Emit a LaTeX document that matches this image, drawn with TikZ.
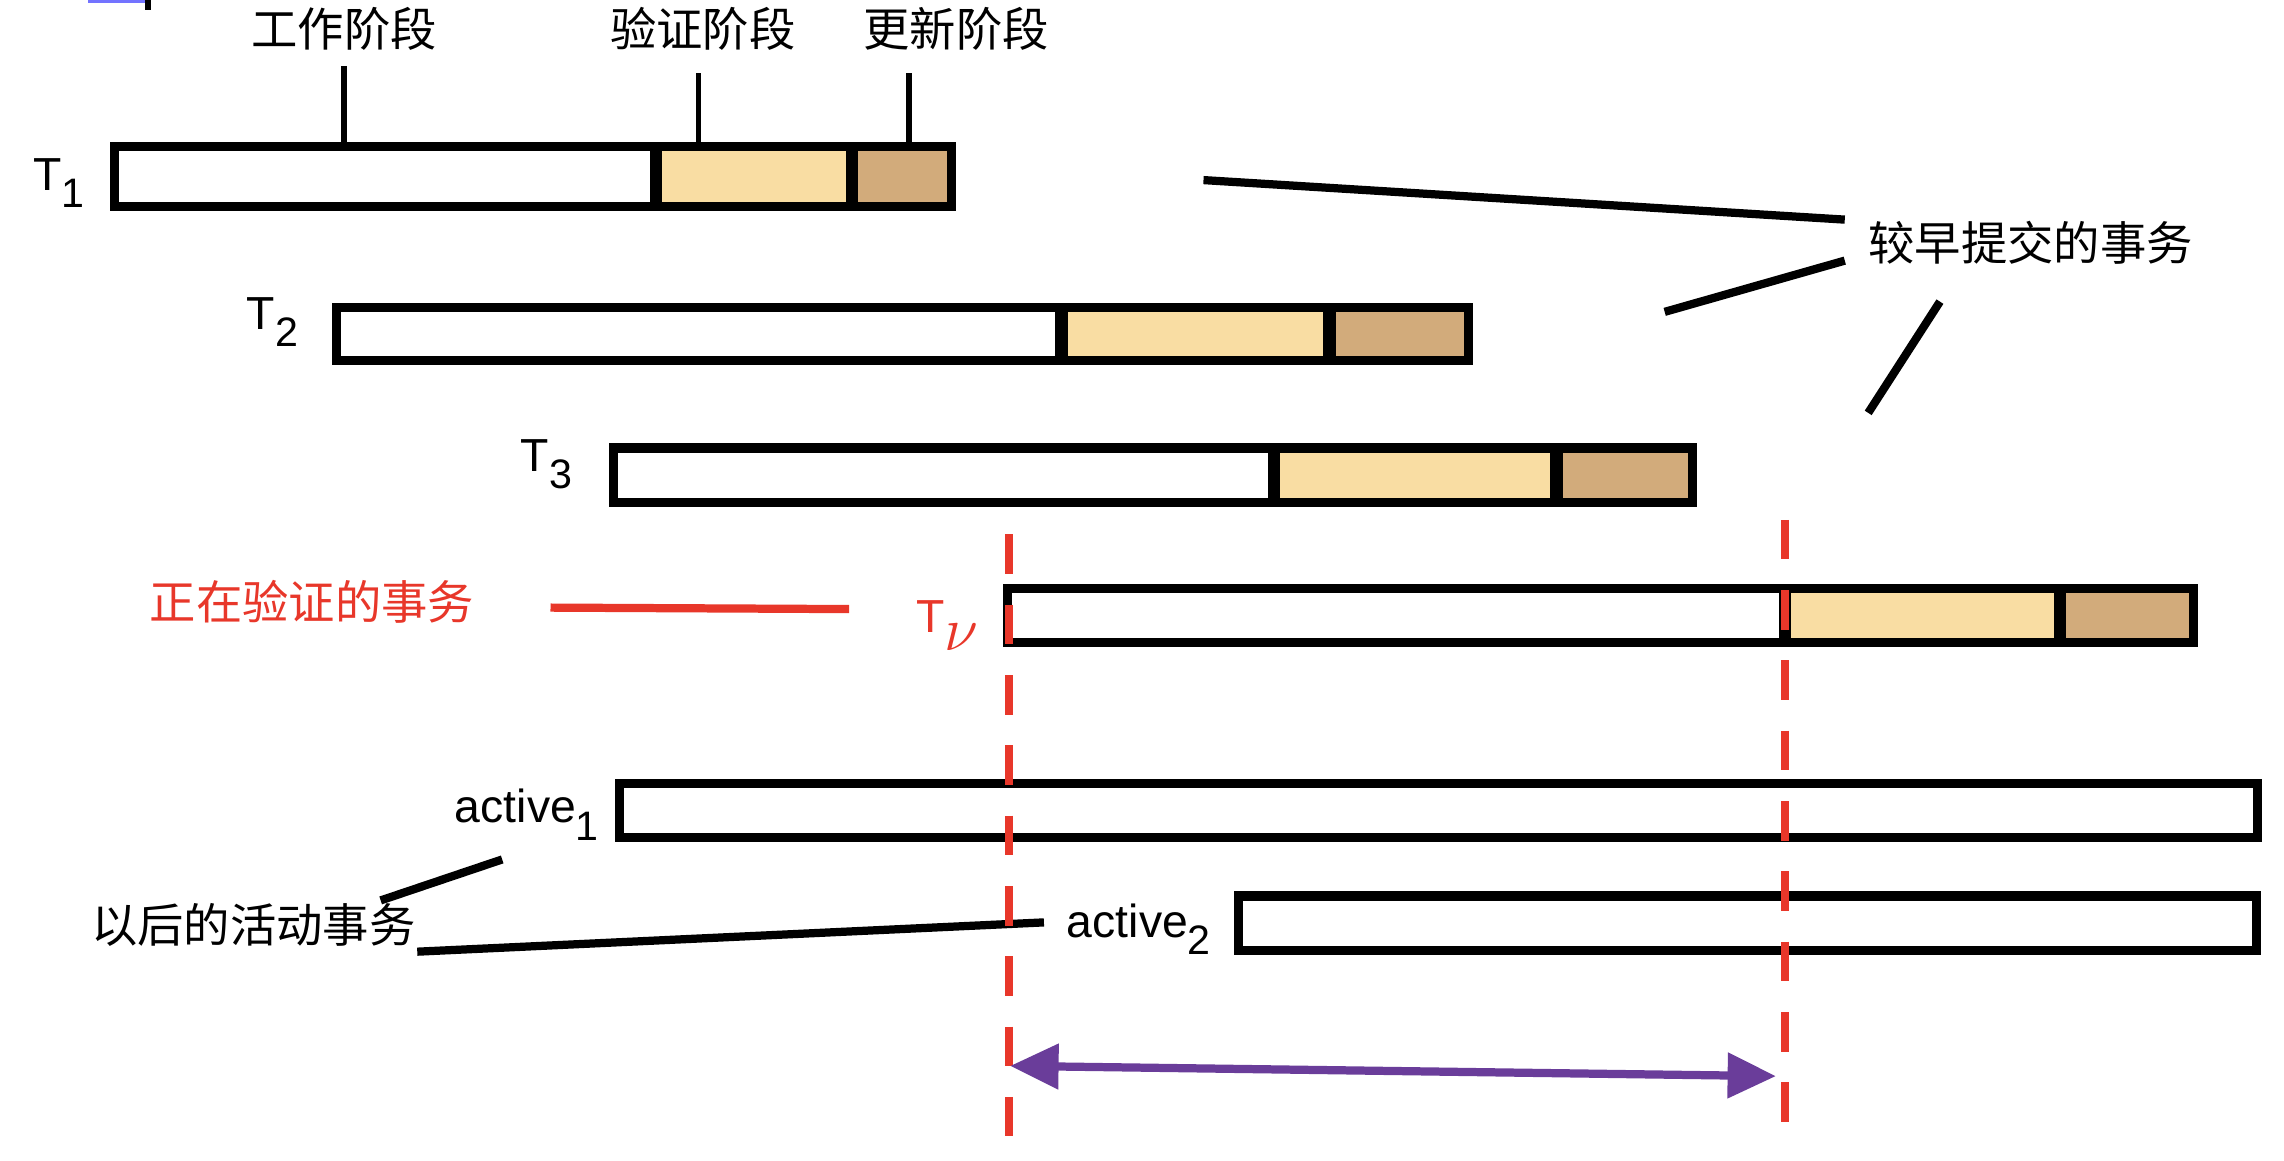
\documentclass[tikz,border=0pt]{standalone}
\usepackage{fontspec}
\setmainfont{Liberation Sans}
\newfontfamily\cjk{Noto Sans CJK SC}
\usepackage{tikz}
\usetikzlibrary{arrows.meta}

\definecolor{validfill}{HTML}{F9DDA3}
\definecolor{updatefill}{HTML}{D2AB7B}
\definecolor{markred}{HTML}{E8372A}
\definecolor{spanpurple}{HTML}{6A3D9A}
\newcommand{\lowsub}[1]{\raisebox{-3.4pt}{\fontsize{8}{9}\selectfont #1}}

\begin{document}
\begin{tikzpicture}[x=0.01cm, y=-0.01cm, font=\fontsize{9}{11}\selectfont]
    \tikzset{
        bar/.style={line width=1.8pt},
        divider/.style={line width=2.4pt},
        leader/.style={line width=1.1pt},
        pointer/.style={line width=1.6pt},
        cut/.style={draw=markred, line width=1.5pt, dash pattern=on 0.27cm off 0.21cm},
    }
    \useasboundingbox (0,0) rectangle (1560,792.3);

    % clipped remains at the top edge
    \fill[blue!55] (60,0) rectangle (100,2);
    \draw[line width=1.2pt] (101,0) -- (101,7);

    % phase labels
    \node (work) at (235,20) {\cjk 工作阶段};
    \node (valid) at (480,20) {\cjk 验证阶段};
    \node (update) at (653,20) {\cjk 更新阶段};
    \coordinate (worktop) at (235,45);
    \coordinate (validtop) at (477,50);
    \coordinate (updatetop) at (621,50);
    \coordinate (workbar) at (235,103);
    \coordinate (validbar) at (477,103);
    \coordinate (updatebar) at (621,103);

    % T1
    \fill[validfill] (448,100) rectangle (582,139);
    \fill[updatefill] (582,100) rectangle (648,139);
    \draw[bar] (78,100) rectangle (650,141);
    \draw[divider] (448,100) -- (448,141);
    \draw[divider] (582,100) -- (582,141);
    \node[anchor=base west, inner sep=0] (t1) at (22,130) {T\lowsub{1}};

    % T2
    \fill[validfill] (725,210) rectangle (908,244);
    \fill[updatefill] (908,210) rectangle (1001,244);
    \draw[bar] (230,210) rectangle (1003,246);
    \draw[divider] (725,210) -- (725,246);
    \draw[divider] (908,210) -- (908,246);
    \node[anchor=base west, inner sep=0] (t2) at (168,225) {T\lowsub{2}};

    % T3
    \fill[validfill] (870,306) rectangle (1063,341);
    \fill[updatefill] (1063,306) rectangle (1154,341);
    \draw[bar] (419,306) rectangle (1156,343);
    \draw[divider] (870,306) -- (870,343);
    \draw[divider] (1063,306) -- (1063,343);
    \node[anchor=base west, inner sep=0] (t3) at (355,322) {T\lowsub{3}};

    % Tv
    \fill[validfill] (1219,402) rectangle (1407,437);
    \fill[updatefill] (1407,402) rectangle (1496,437);
    \draw[bar] (688,402) rectangle (1498,439);
    \draw[divider] (1219,402) -- (1219,439);
    \draw[divider] (1407,402) -- (1407,439);
    \node[anchor=base west, inner sep=0, text=markred] (tv) at (625,432) {T\raisebox{-3.4pt}{\large$\nu$}};

    % active transactions
    \draw[bar] (423,535) rectangle (1542,572);
    \node[anchor=base west, inner sep=0] (act1) at (310,562) {active\lowsub{1}};
    \draw[bar] (846,612) rectangle (1541,649);
    \node[anchor=base west, inner sep=0] (act2) at (728,640) {active\lowsub{2}};

    \draw[leader] (worktop) -- (workbar);
    \draw[leader] (validtop) -- (validbar);
    \draw[leader] (updatetop) -- (updatebar);

    % earlier committed
    \node (early) at (1387,166) {\cjk 较早提交的事务};
    \coordinate (e1) at (822,123);
    \coordinate (e1end) at (1260,150);
    \coordinate (e2) at (1137,213);
    \coordinate (e2end) at (1260,178);
    \coordinate (e3) at (1325,206);
    \coordinate (e3end) at (1276,282);
    \draw[pointer] (e1) -- (e1end);
    \draw[pointer] (e2) -- (e2end);
    \draw[pointer] (e3) -- (e3end);

    % validating
    \node[text=markred] (checking) at (213,411) {\cjk 正在验证的事务};
    \coordinate (c1) at (376,415);
    \coordinate (c1end) at (580,416);
    \draw[pointer, markred] (c1) -- (c1end);

    % later active
    \node (later) at (173,632) {\cjk 以后的活动事务};
    \coordinate (l1) at (260,615);
    \coordinate (l1end) at (343,587);
    \coordinate (l2) at (285,650);
    \coordinate (l2end) at (713,630);
    \draw[pointer] (l1) -- (l1end);
    \draw[pointer] (l2) -- (l2end);

    % validation window
    \coordinate (cutA) at (689,365);
    \coordinate (cutAend) at (689,776);
    \coordinate (cutB) at (1219,355);
    \coordinate (cutBend) at (1219,768);
    \draw[cut] (cutA) -- (cutAend);
    \draw[cut] (cutB) -- (cutBend);

    \coordinate (spanL) at (690,728);
    \coordinate (spanR) at (1213,735);
    \draw[spanpurple, line width=1.6pt, {Triangle[length=0.33cm, width=0.3cm]}-{Triangle[length=0.33cm, width=0.3cm]}] (spanL) -- (spanR);
\end{tikzpicture}
\end{document}
